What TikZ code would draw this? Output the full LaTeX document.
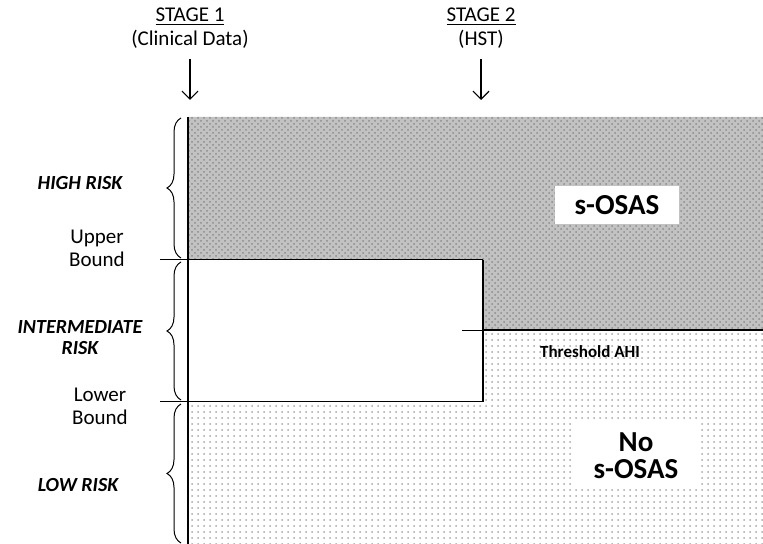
\documentclass[tikz,border=0pt]{standalone}
\usepackage{fontspec}
\setmainfont{Carlito}
\usetikzlibrary{positioning,patterns,decorations.pathreplacing,arrows.meta}

\begin{document}
\begin{tikzpicture}[x=0.5pt, y=0.5pt, every node/.style={font=\fontsize{10.5}{11}\selectfont}]
        \useasboundingbox (0,0) rectangle (763,544);
        % s-OSAS region
        \fill[gray!48] (188,427) -- (763,427) -- (763,214) -- (483,214) -- (483,284) -- (188,284) -- cycle;
        \fill[pattern=crosshatch dots, pattern color=gray!90] (188,427) -- (763,427) -- (763,214) -- (483,214) -- (483,284) -- (188,284) -- cycle;
        % No s-OSAS region
        \fill[pattern=dots, pattern color=gray!70] (188,142) -- (483,142) -- (483,214) -- (763,214) -- (763,0) -- (188,0) -- cycle;

        % Bounds and threshold
        \draw[line width=1pt] (188,0) -- (188,427);
        \draw[line width=0.5pt] (160,284) -- (483,284);
        \draw[line width=0.5pt] (160,142) -- (483,142);
        \draw[line width=1pt] (483,142) -- (483,284);
        \draw[line width=1pt] (483,214) -- (763,214);
        \draw[line width=0.4pt] (462,214) -- (483,214);

        % Stages
        \node[align=center, font=\fontsize{10.5}{12}\selectfont] (stage1) at (190,516) {\underline{STAGE 1}\\(Clinical Data)};
        \node[align=center, font=\fontsize{10.5}{12}\selectfont] (stage2) at (481,516) {\underline{STAGE 2}\\(HST)};
        \coordinate (s1) at (190,444);
        \coordinate (s2) at (481,444);
        \draw[-{Straight Barb[length=4pt]}, line width=0.6pt] (stage1.south) ++(0,-4) -- (s1);
        \draw[-{Straight Barb[length=4pt]}, line width=0.6pt] (stage2.south) ++(0,-4) -- (s2);

        % Risk braces
        \draw[decorate, decoration={brace, amplitude=7pt}, line width=0.5pt] (181,286) -- (181,426);
        \draw[decorate, decoration={brace, amplitude=7pt}, line width=0.5pt] (181,144) -- (181,282);
        \draw[decorate, decoration={brace, amplitude=7pt}, line width=0.5pt] (181,1) -- (181,140);

        % Risk labels
        \node[font=\fontsize{10}{11}\selectfont\bfseries\itshape] (high) at (80,361) {HIGH RISK};
        \node[align=center, font=\fontsize{10.5}{11.5}\selectfont] (upper) at (97,296) {Upper\\Bound};
        \node[font=\fontsize{10}{10.5}\selectfont\bfseries\itshape, align=center] (inter) at (80,206) {INTERMEDIATE\\RISK};
        \node[align=center, font=\fontsize{10.5}{11.5}\selectfont] (lower) at (100,138) {Lower\\Bound};
        \node[font=\fontsize{10}{11}\selectfont\bfseries\itshape] (low) at (78,59) {LOW RISK};

        % Outcomes
        \node[fill=white, minimum width=62pt, minimum height=19pt, font=\fontsize{14.5}{16}\selectfont\bfseries] (osas) at (617,339) {s-OSAS};
        \node[fill=white, minimum width=63pt, minimum height=33pt, align=center, font=\fontsize{14.5}{13.5}\selectfont\bfseries] (noosas) at (636,88) {No\\s-OSAS};
        \node[font=\fontsize{8.5}{9}\selectfont\bfseries] (thr) at (590,192) {Threshold AHI};
\end{tikzpicture}
\end{document}
